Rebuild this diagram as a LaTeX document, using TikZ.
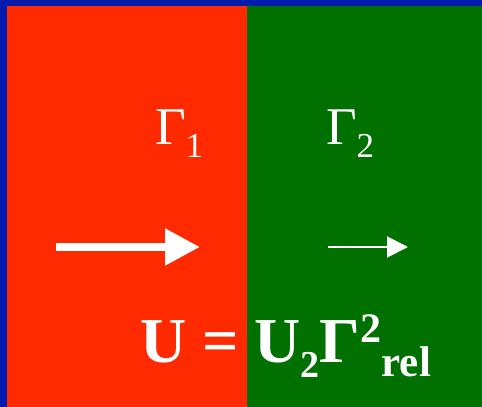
\documentclass[tikz,border=0pt]{standalone}
\usepackage{fontspec}
\setmainfont{Liberation Serif}
\usetikzlibrary{arrows.meta}
\definecolor{bgblue}{RGB}{4,28,174}
\definecolor{lred}{RGB}{255,42,0}
\definecolor{rgreen}{RGB}{0,112,0}
\tikzset{
  label/.style={text=white, inner sep=0pt, outer sep=0pt, anchor=base west},
  bigarrow/.style={white, line width=8pt, -{Triangle[length=35pt,width=35pt]}},
  smallarrow/.style={white, line width=2pt, -{Triangle[length=21pt,width=21pt]}}
}
\begin{document}
\begin{tikzpicture}[x=1pt,y=1pt]
\useasboundingbox (0,0) rectangle (482,407);
\fill[bgblue] (0,0) rectangle (482,407);
\fill[lred] (7,0) rectangle (247,401);
\fill[rgreen] (247,0) rectangle (482,401);
% labels
\node[label] (g1) at (155,262) {\fontsize{53}{53}\selectfont Γ\raisebox{-13pt}{\fontsize{35}{35}\selectfont 1}};
\node[label] (g2) at (326,262) {\fontsize{53}{53}\selectfont Γ\raisebox{-13pt}{\fontsize{35}{35}\selectfont 2}};
\node[label] (eq) at (140,44) {\bfseries\fontsize{64}{64}\selectfont U = U\raisebox{-15pt}{\fontsize{38}{38}\selectfont 2}Γ\raisebox{20pt}{\fontsize{42}{42}\selectfont 2}\raisebox{-14pt}{\fontsize{43}{43}\selectfont rel}};
% arrows
\coordinate (a1s) at (56,160);
\coordinate (a1e) at (200,160);
\coordinate (a2s) at (328,160);
\coordinate (a2e) at (408,160);
\draw[bigarrow] (a1s) -- (a1e);
\draw[smallarrow] (a2s) -- (a2e);
\end{tikzpicture}
\end{document}
